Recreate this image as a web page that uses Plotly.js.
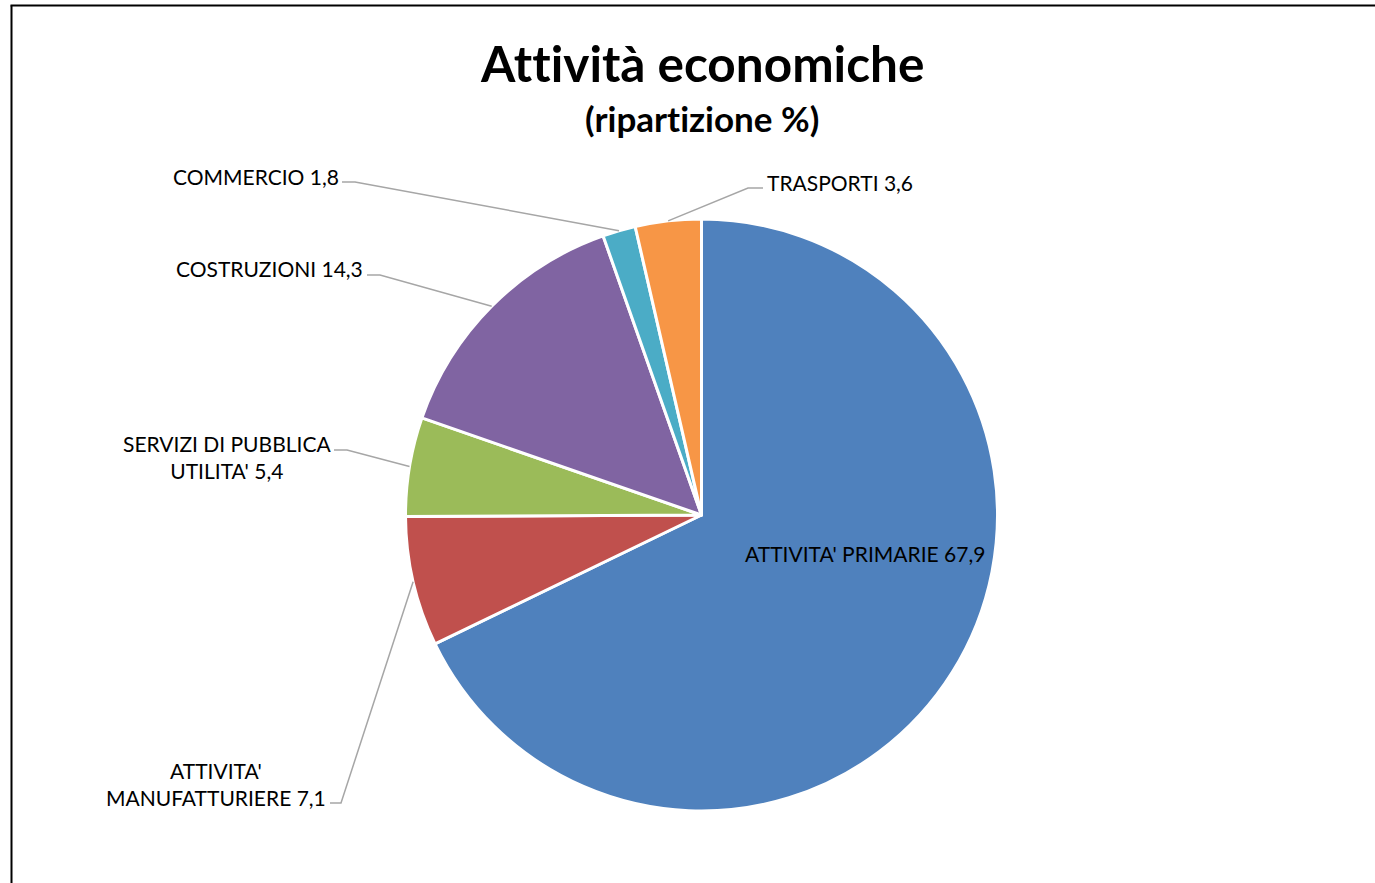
<!DOCTYPE html>
<html>
<head>
<meta charset="utf-8">
<script src="https://cdn.plot.ly/plotly-3.0.1.min.js"></script>
<style>html,body{margin:0;padding:0;background:#fff;}#chart{width:1375px;height:883px;}
text{font-variant-ligatures:none;font-feature-settings:"liga" 0;}</style>
</head>
<body>
<div id="chart"></div>
<script>
// ---- data ----
const categories = ["ATTIVITA' PRIMARIE", "ATTIVITA' MANUFATTURIERE", "SERVIZI DI PUBBLICA UTILITA'", "COSTRUZIONI", "COMMERCIO", "TRASPORTI"];
const values = [67.9, 7.1, 5.4, 14.3, 1.8, 3.6];
const valueLabels = ["67,9", "7,1", "5,4", "14,3", "1,8", "3,6"];
const labelTexts = [
  "ATTIVITA' PRIMARIE 67,9",
  "ATTIVITA'<br>MANUFATTURIERE 7,1",
  "SERVIZI DI PUBBLICA<br>UTILITA' 5,4",
  "COSTRUZIONI 14,3",
  "COMMERCIO 1,8",
  "TRASPORTI 3,6"
];
const colors = ["#4F81BD", "#C0504D", "#9BBB59", "#8064A2", "#4BACC6", "#F79646"];

// ---- geometry (pixels) ----
const W = 1375, H = 883;
const CX = 701.5, CY = 515, R = 296;
const px = x => x / W;
const py = y => 1 - y / H;

const labelPos = [
  {x: 865, y: 553, xa: 'center', inside: true},
  {x: 327, y: 784, xa: 'right', l0: 330, l1: 341, ly: 803},
  {x: 332, y: 457, xa: 'right', l0: 334, l1: 347, ly: 450},
  {x: 364, y: 268, xa: 'right', l0: 367, l1: 380, ly: 275},
  {x: 340, y: 176, xa: 'right', l0: 342, l1: 355, ly: 182},
  {x: 766, y: 182, xa: 'left', l0: 763, l1: 748, ly: 188}
];

const total = values.reduce((a, b) => a + b, 0);
let cum = 0;
const shapes = [];
const annotations = [];
const labelFont = {family: 'Lato, "Open Sans", sans-serif', size: 21, color: '#000'};
values.forEach((v, i) => {
  const mid = (cum + v / 2) / total;
  cum += v;
  const ang = mid * 2 * Math.PI;
  const ex = CX + R * Math.sin(ang);
  const ey = CY - R * Math.cos(ang);
  const p = labelPos[i];
  annotations.push({
    text: labelTexts[i], xref: 'paper', yref: 'paper',
    x: px(p.x), y: py(p.y), xanchor: p.xa, yanchor: 'middle',
    showarrow: false, align: 'center', font: labelFont, borderpad: 0
  });
  if (!p.inside) {
    shapes.push({
      type: 'path', xref: 'paper', yref: 'paper',
      path: `M ${px(p.l0)} ${py(p.ly)} L ${px(p.l1)} ${py(p.ly)} L ${px(ex)} ${py(ey)}`,
      line: {color: '#A6A6A6', width: 1.5}
    });
  }
});

// border
shapes.push({type: 'line', xref: 'paper', yref: 'paper', x0: px(11.5), x1: px(11.5), y0: py(5.5), y1: py(H + 5), line: {color: '#000', width: 2}});
shapes.push({type: 'line', xref: 'paper', yref: 'paper', x0: px(10.5), x1: px(W + 5), y0: py(5.5), y1: py(5.5), line: {color: '#000', width: 2}});

annotations.push({
  text: '<b>Attività economiche</b>', xref: 'paper', yref: 'paper',
  x: px(702), y: py(63), xanchor: 'center', yanchor: 'middle', showarrow: false,
  font: {family: 'Lato, "Open Sans", sans-serif', size: 49.5, color: '#000'}
});
annotations.push({
  text: '<b>(ripartizione %)</b>', xref: 'paper', yref: 'paper',
  x: px(702), y: py(118), xanchor: 'center', yanchor: 'middle', showarrow: false,
  font: {family: 'Lato, "Open Sans", sans-serif', size: 35, color: '#000'}
});

const trace = {
  type: 'pie',
  labels: categories,
  values: values,
  text: valueLabels,
  sort: false,
  direction: 'clockwise',
  rotation: 0,
  textinfo: 'none',
  hoverinfo: 'label+text',
  marker: {colors: colors, line: {color: '#fff', width: 3}},
  domain: {x: [px(CX - R), px(CX + R)], y: [py(CY + R), py(CY - R)]}
};

Plotly.newPlot('chart', [trace], {
  width: W, height: H,
  margin: {l: 0, r: 0, t: 0, b: 0},
  showlegend: false,
  paper_bgcolor: '#fff',
  shapes: shapes,
  annotations: annotations
}, {displayModeBar: false, staticPlot: true});
</script>
</body>
</html>
